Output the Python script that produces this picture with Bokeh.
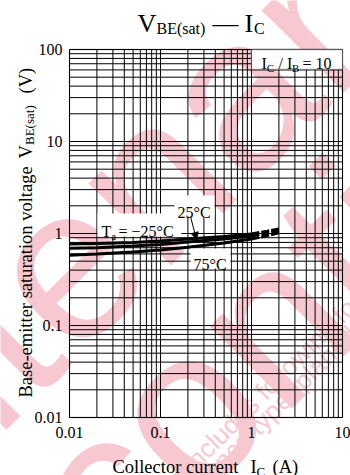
import math
from bokeh.plotting import figure
from bokeh.models import (Label, BoxAnnotation, FixedTicker, Arrow, NormalHead,
                          LogAxis, LogScale)
from bokeh.embed import file_html
from bokeh.resources import INLINE

# ---------------- data ----------------
current_solid = [0.01, 0.02, 0.05, 0.1, 0.2, 0.5, 1.0]
vbe_m25 = [0.77, 0.78, 0.80, 0.83, 0.87, 0.93, 0.99]
vbe_25 = [0.69, 0.70, 0.73, 0.76, 0.81, 0.87, 0.94]
vbe_75 = [0.58, 0.60, 0.63, 0.66, 0.71, 0.79, 0.87]

current_dash = [1.0, 1.5, 2.0]
vbe_m25_dash = [0.99, 1.06, 1.12]
vbe_25_dash = [0.94, 1.01, 1.07]
vbe_75_dash = [0.87, 0.95, 1.02]

x_ticks = [0.01, 0.1, 1, 10]
x_tick_labels = ["0.01", "0.1", "1", "10"]
y_ticks = [0.01, 0.1, 1, 10, 100]
y_tick_labels = ["0.01", "0.1", "1", "10", "100"]
x_minor = [m * d for d in (0.01, 0.1, 1) for m in range(2, 10)]
y_minor = [m * d for d in (0.01, 0.1, 1, 10) for m in range(2, 10)]
x_box = (0.01, 10)
y_box = (0.01, 100)

# ---------------- layout helpers (page pixels -> data) ----------------
FL, FT, PX_X, PX_Y = 69.0, 49.0, 91.0, 92.0
W, H = 350, 475


def X(px):
    return 10 ** ((px - FL) / PX_X - 2)


def Y(py):
    return 10 ** (2 - (py - FT) / PX_Y)


SERIF = "Liberation Serif"
SANS = "Liberation Sans"

p = figure(width=W, height=H, x_axis_type=None, y_axis_type=None,
           x_range=(X(0), X(W)), y_range=(Y(H), Y(0)),
           output_backend="svg", toolbar_location=None,
           min_border=0)
p.x_scale = LogScale()
p.y_scale = LogScale()
p.title = None
p.background_fill_color = "white"
p.border_fill_color = "white"
p.outline_line_color = None


def lab(px, py, text, size, font=SERIF, color="black", angle=0.0,
        level="annotation", align="left"):
    p.add_layout(Label(x=X(px), y=Y(py), text=text, text_font=font,
                       text_font_size=f"{size}px", text_color=color,
                       angle=angle, text_align=align,
                       text_baseline="alphabetic", level=level))


# ---------------- watermark ----------------
WM = "#f7c8d0"
A45 = math.pi / 4
lab(-361, 689, "Maintenance/", 220, font=SANS, color=WM, angle=A45, level="image")
lab(-162, 754, "Discontinued", 220, font=SANS, color=WM, angle=A45, level="image")
lab(-35, 689, "Maintenance/Discontinued includes following four Product lifecycle stage.",
    26, font=SANS, color=WM, angle=A45, level="image")
lab(-80, 762, "(planed maintenance type, maintenance type, planed discontinued typed, discontinued type)",
    26, font=SANS, color=WM, angle=A45, level="image")

# ---------------- grid (from tick arrays) ----------------
xg = x_ticks + x_minor
yg = y_ticks + y_minor
p.segment(x0=xg, y0=[y_box[0]] * len(xg), x1=xg, y1=[y_box[1]] * len(xg),
          line_color="black", line_width=1)
p.segment(x0=[x_box[0]] * len(yg), y0=yg, x1=[x_box[1]] * len(yg), y1=yg,
          line_color="black", line_width=1)

# ---------------- axes (tick labels) ----------------
xax = LogAxis(fixed_location=y_box[0], bounds=x_box)
yax = LogAxis(fixed_location=x_box[0], bounds=y_box)
for ax, ticks, labels in ((xax, x_ticks, x_tick_labels), (yax, y_ticks, y_tick_labels)):
    ax.ticker = FixedTicker(ticks=ticks)
    ax.major_label_overrides = {t: s for t, s in zip(ticks, labels)}
    ax.major_tick_line_color = None
    ax.minor_tick_line_color = None
    ax.axis_line_color = None
    ax.major_tick_out = 0
    ax.major_tick_in = 0
    ax.minor_tick_out = 0
    ax.major_label_text_font = SERIF
    ax.major_label_text_font_size = "16px"
    ax.major_label_text_color = "black"
xax.major_label_standoff = 9
yax.major_label_standoff = 7
p.add_layout(xax, "below")
p.add_layout(yax, "left")

# ---------------- curves ----------------
for ys in (vbe_m25, vbe_25, vbe_75):
    p.line(current_solid, ys, line_color="black", line_width=3)
for ys in (vbe_m25_dash, vbe_25_dash, vbe_75_dash):
    p.line(current_dash, ys, line_color="black", line_width=3, line_dash="8 2")

# ---------------- frame outline ----------------
p.add_layout(BoxAnnotation(left=x_box[0], right=x_box[1], bottom=y_box[0], top=y_box[1],
                           fill_color=None, line_color="black", line_width=1.3))

# ---------------- white boxes behind labels ----------------
for (l, r, t, b) in ((97, 181, 213, 236), (174, 214, 195, 216), (190, 230, 248, 268)):
    p.add_layout(BoxAnnotation(left=X(l), right=X(r), top=Y(t), bottom=Y(b),
                               fill_color="white", fill_alpha=1, line_color=None))
p.add_layout(BoxAnnotation(left=1, right=10, top=100, bottom=Y(69),
                           fill_color="white", fill_alpha=1,
                           line_color="black", line_width=1.3))

# ---------------- curve labels ----------------
lab(101, 231, "T", 16)
lab(110.8, 235, "a", 11)
lab(118, 231, "= \u221225\u00b0C", 16)
lab(177, 212, "25\u00b0C", 16)
lab(193, 264, "75\u00b0C", 16)
p.add_layout(Arrow(x_start=X(190), y_start=Y(216), x_end=X(196), y_end=Y(239),
                   line_color="black", line_width=1,
                   end=NormalHead(size=7, fill_color="black", line_color="black")))

# condition box text
lab(261, 63, "I", 16)
lab(266.3, 67, "C", 11)
lab(278, 63, "/ I", 16)
lab(291.4, 67, "B", 11)
lab(302, 63, "= 10", 16)

# ---------------- title ----------------
lab(137, 23, "V", 26)
lab(156, 28, "BE(sat)", 16)
lab(212, 23, "\u2014", 26)
lab(244, 23, "I", 26)
lab(253.5, 28, "C", 16)

# ---------------- axis titles ----------------
lab(112, 466, "Collector current", 18.5)
lab(250, 466, "I", 18.5)
lab(256, 471, "C", 13)
lab(272, 466, "(A)", 18.5)

R90 = math.pi / 2
lab(25, 397, "Base-emitter saturation voltage", 18.5, angle=R90)
lab(25, 158, "V", 18.5, angle=R90)
lab(29, 144.5, "BE(sat)", 13, angle=R90)
lab(25, 93, "(V)", 18.5, angle=R90)

open("out.html", "w").write(file_html(p, INLINE))
